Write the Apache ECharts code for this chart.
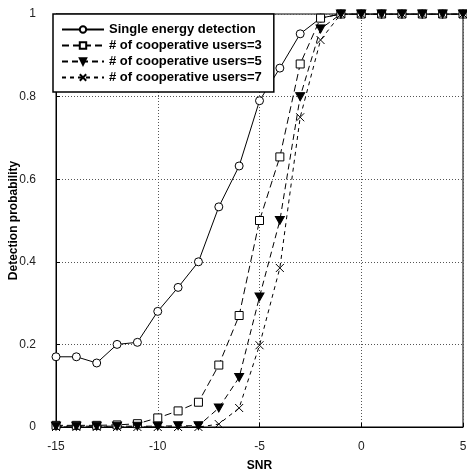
<!DOCTYPE html>
<html>
<head>
<meta charset="utf-8">
<script src="https://cdn.jsdelivr.net/npm/echarts@6/dist/echarts.min.js"></script>
<style>
  html, body { margin: 0; padding: 0; background: #fff; }
  #chart { width: 467px; height: 474px; }
</style>
</head>
<body>
<div id="chart"></div>
<script>
// SNR values (x axis)
var snr = [-15, -14, -13, -12, -11, -10, -9, -8, -7, -6, -5, -4, -3, -2, -1, 0, 1, 2, 3, 4, 5];
// detection probability per series
var singleDet = [0.17, 0.17, 0.155, 0.2, 0.205, 0.28, 0.338, 0.4, 0.533, 0.632, 0.79, 0.869, 0.952, 0.99, 1, 1, 1, 1, 1, 1, 1];
var coop3 = [0.004, 0.004, 0.004, 0.005, 0.008, 0.022, 0.039, 0.06, 0.15, 0.27, 0.5, 0.654, 0.879, 0.99, 1, 1, 1, 1, 1, 1, 1];
var coop5 = [0.002, 0.002, 0.002, 0.002, 0.002, 0.002, 0.003, 0.003, 0.046, 0.12, 0.315, 0.5, 0.8, 0.964, 1, 1, 1, 1, 1, 1, 1];
var coop7 = [0, 0, 0, 0, 0, 0, 0, 0, 0.007, 0.046, 0.198, 0.385, 0.75, 0.937, 1, 1, 1, 1, 1, 1, 1];
var names = ['Single energy detection', '# of cooperative users=3', '# of cooperative users=5', '# of cooperative users=7'];

function pairs(ys) {
  var out = [];
  for (var i = 0; i < snr.length; i++) out.push([snr[i], ys[i]]);
  return out;
}

var triDown = 'path://M0,0L10,0L5,10Z';
var cross = 'path://M0,0L10,10M10,0L0,10';

var myChart = echarts.init(document.getElementById('chart'));
myChart.setOption({
  animation: false,
  textStyle: { fontFamily: 'Liberation Sans, Arial, sans-serif' },
  grid: {
    left: 56, right: 4, top: 14, bottom: 47,
    outerBoundsMode: 'none', containLabel: false,
    show: true, borderColor: '#000', borderWidth: 1
  },
  legend: {
    orient: 'vertical',
    left: 53, top: 14,
    itemWidth: 42, itemHeight: 8, itemGap: 3,
    padding: [9, 12, 8, 8],
    backgroundColor: '#fff',
    borderColor: '#000', borderWidth: 1.5,
    textStyle: { fontSize: 13, fontWeight: 'bold', color: '#000' },
    data: names
  },
  xAxis: {
    type: 'value', min: -15, max: 5, interval: 5,
    name: 'SNR', nameLocation: 'middle', nameGap: 33, nameMoveOverlap: false,
    nameTextStyle: { fontSize: 12, fontWeight: 'bold', color: '#000' },
    axisLine: { onZero: false, lineStyle: { color: '#000' } },
    axisTick: { inside: true, length: 4, lineStyle: { color: '#000' } },
    axisLabel: { fontSize: 12, color: '#222', margin: 14 },
    splitLine: { lineStyle: { color: '#555', type: [1, 2], width: 1 } }
  },
  yAxis: {
    type: 'value', min: 0, max: 1, interval: 0.2,
    name: 'Detection probability', nameLocation: 'middle', nameGap: 36, nameMoveOverlap: false,
    nameTextStyle: { fontSize: 12, fontWeight: 'bold', color: '#000' },
    axisLine: { show: true, onZero: false, lineStyle: { color: '#000' } },
    axisTick: { show: true, inside: true, length: 4, lineStyle: { color: '#000' } },
    axisLabel: { fontSize: 12, color: '#222', margin: 20 },
    splitLine: { lineStyle: { color: '#555', type: [1, 2], width: 1 } }
  },
  series: [
    {
      name: names[0], type: 'line', data: pairs(singleDet),
      symbol: 'circle', symbolSize: 8,
      lineStyle: { color: '#000', width: 1 },
      itemStyle: { color: '#fff', borderColor: '#000', borderWidth: 1 }
    },
    {
      name: names[1], type: 'line', data: pairs(coop3),
      symbol: 'rect', symbolSize: 8,
      lineStyle: { color: '#000', width: 1, type: [7, 4] },
      itemStyle: { color: '#fff', borderColor: '#000', borderWidth: 1 }
    },
    {
      name: names[2], type: 'line', data: pairs(coop5),
      symbol: triDown, symbolSize: [9, 8],
      lineStyle: { color: '#000', width: 1, type: [6, 4] },
      itemStyle: { color: '#000', borderColor: '#000', borderWidth: 1 }
    },
    {
      name: names[3], type: 'line', data: pairs(coop7),
      symbol: cross, symbolSize: 8,
      lineStyle: { color: '#000', width: 1, type: [4, 4] },
      itemStyle: { color: 'none', borderColor: '#000', borderWidth: 1 }
    }
  ]
});
</script>
</body>
</html>
